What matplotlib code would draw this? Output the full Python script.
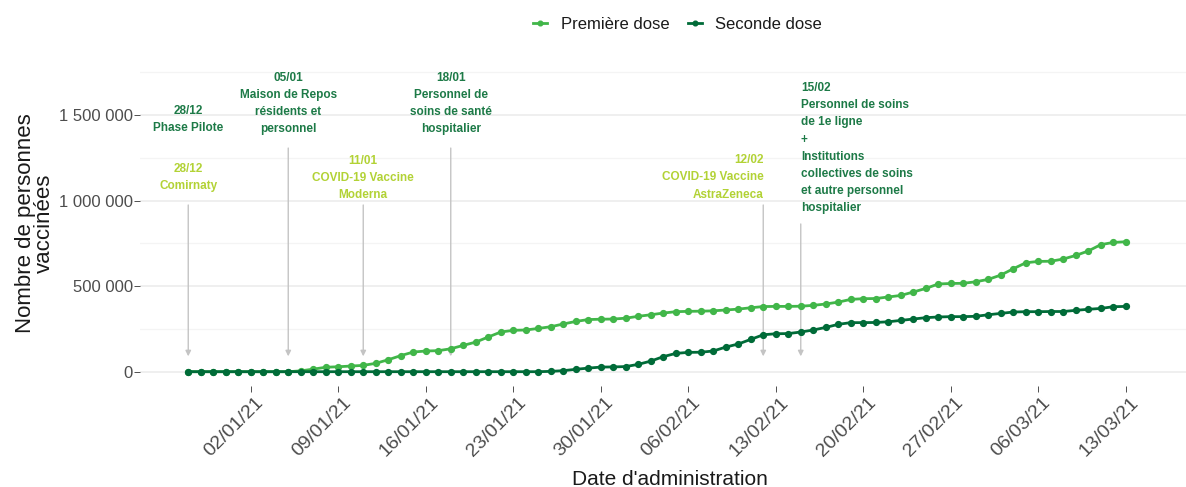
import matplotlib
matplotlib.use("Agg")
import matplotlib.pyplot as plt
import matplotlib.dates as mdates
import matplotlib.transforms as mtransforms
from matplotlib.ticker import FuncFormatter, MultipleLocator
import pandas as pd

# ---------------- data ----------------
start_date = "2020-12-28"
end_date = "2021-03-13"

premiere_dose = [
    0, 0, 0, 0, 0, 0, 0, 0, 0,
    5000, 15000, 26000, 29000, 33000, 37000, 49000, 70000, 94000, 115000,
    121000, 123000, 134000, 154000, 173000, 203000, 232000, 242000, 244000, 253000,
    263000, 279000, 294000, 305000, 307000, 308000, 313000, 324000, 333000, 343000,
    351000, 353000, 354000, 356000, 361000, 366000, 374000, 381000, 382000, 382000,
    383000, 388000, 396000, 407000, 423000, 427000, 428000, 437000, 446000, 466000,
    487000, 513000, 516000, 517000, 526000, 540000, 565000, 602000, 637000, 645000,
    646000, 659000, 680000, 706000, 743000, 756000, 760000,
]
seconde_dose = [
    0, 0, 0, 0, 0, 0, 0, 0, 0, 0, 0, 0, 0, 0, 0, 0, 0, 0, 0, 0,
    0, 0, 0, 0, 0, 0, 0, 0, 0,
    2000, 6000, 14000, 21000, 27000, 28000, 30000, 43000, 62000, 88000,
    107000, 113000, 114000, 121000, 144000, 162000, 189000, 216000, 222000, 223000,
    232000, 244000, 259000, 277000, 287000, 287000, 288000, 292000, 300000, 308000,
    316000, 320000, 322000, 322000, 324000, 333000, 341000, 349000, 351000, 351000,
    352000, 352000, 359000, 365000, 370000, 380000, 382000,
]
series_labels = ["Première dose", "Seconde dose"]

tick_dates = ["2021-01-02", "2021-01-09", "2021-01-16", "2021-01-23", "2021-01-30",
              "2021-02-06", "2021-02-13", "2021-02-20", "2021-02-27", "2021-03-06",
              "2021-03-13"]
y_ticks = [0, 500000, 1000000, 1500000]

ann_dates = ["2020-12-28", "2020-12-28", "2021-01-05", "2021-01-11",
             "2021-01-18", "2021-02-12", "2021-02-15"]
ann_texts = [
    "28/12\nPhase Pilote",
    "28/12\nComirnaty",
    "05/01\nMaison de Repos\nrésidents et\npersonnel",
    "11/01\nCOVID-19 Vaccine\nModerna",
    "18/01\nPersonnel de\nsoins de santé\nhospitalier",
    "12/02\nCOVID-19 Vaccine\nAstraZeneca",
    "15/02\nPersonnel de soins\nde 1e ligne\n+\nInstitutions\ncollectives de soins\net autre personnel\nhospitalier",
]
ann_kind = ["phase", "vaccin", "phase", "vaccin", "phase", "vaccin", "phase"]

arrow_dates = ["2020-12-28", "2021-01-05", "2021-01-11", "2021-01-18",
               "2021-02-12", "2021-02-15"]

# ---------------- layout / style ----------------
ann_y = [1476000, 1133000, 1568000, 1133000, 1568000, 1136000, 1308000]
ann_ha = ["center", "center", "center", "center", "center", "right", "left"]
arrow_top = [975000, 1308000, 975000, 1308000, 975000, 864000]
arrow_tip = 90000

c_first = "#41b649"
c_second = "#006b38"
c_phase = "#1d7a47"
c_vaccin = "#b2d235"
grey_txt = "#4d4d4d"

plt.rcParams["font.family"] = ["Liberation Sans", "DejaVu Sans"]

W, H = 1186, 487
fig = plt.figure(figsize=(W / 100, H / 100), dpi=100)
ax_l, ax_r, ax_t, ax_b = 140, 1200, 60, 386
ax = fig.add_axes([ax_l / W, (H - ax_b) / H, (ax_r - ax_l) / W, (ax_b - ax_t) / H])

dates = pd.date_range(start_date, end_date, freq="D")
ax.plot(dates, premiere_dose, color=c_first, lw=2.0, marker="o", ms=4.2,
        label=series_labels[0], zorder=3)
ax.plot(dates, seconde_dose, color=c_second, lw=2.0, marker="o", ms=4.2,
        label=series_labels[1], zorder=4)

d0 = mdates.date2num(pd.Timestamp(start_date))
ax.set_xlim(d0 - 3.86, d0 + 80.94)
ax.set_ylim(-83600, 1823000)

for s in ax.spines.values():
    s.set_visible(False)

ax.set_yticks(y_ticks)
ax.yaxis.set_minor_locator(MultipleLocator(250000))
ax.yaxis.set_major_formatter(FuncFormatter(lambda v, p: f"{int(round(v)):,}".replace(",", " ")))
ax.grid(axis="y", which="major", color="#ebebeb", lw=1.1, zorder=0)
ax.grid(axis="y", which="minor", color="#f4f4f4", lw=0.9, zorder=0)
ax.grid(axis="x", visible=False)
ax.tick_params(axis="y", which="major", length=4, width=0.6, color="#333333",
               labelsize=12, labelcolor=grey_txt, pad=1.0)
ax.tick_params(axis="y", which="minor", length=0)

ax.set_xticks([mdates.date2num(pd.Timestamp(t)) for t in tick_dates])
ax.xaxis.set_major_formatter(mdates.DateFormatter("%d/%m/%y"))
ax.tick_params(axis="x", length=4, width=0.6, color="#333333",
               labelsize=14, labelcolor=grey_txt, pad=2)
shift = mtransforms.ScaledTranslation(4 / 100, 0, fig.dpi_scale_trans)
for lab in ax.get_xticklabels():
    lab.set_rotation(45)
    lab.set_ha("right")
    lab.set_va("top")
    lab.set_rotation_mode("anchor")
    lab.set_transform(lab.get_transform() + shift)

ax.set_xlabel("Date d'administration", fontsize=15, color="#1a1a1a", labelpad=7)
ax.set_ylabel("Nombre de personnes\nvaccinées", fontsize=16, color="#1a1a1a",
              labelpad=3, linespacing=0.85)

# arrows
for d, top in zip(arrow_dates, arrow_top):
    x = mdates.date2num(pd.Timestamp(d))
    ax.annotate("", xy=(x, arrow_tip), xytext=(x, top),
                arrowprops=dict(arrowstyle="-|>", color="#c4c4c4", lw=1.0,
                                mutation_scale=8, shrinkA=0, shrinkB=0),
                zorder=2)

# annotation texts
for d, txt, y, kind, ha in zip(ann_dates, ann_texts, ann_y, ann_kind, ann_ha):
    x = mdates.date2num(pd.Timestamp(d))
    ax.text(x, y, txt, ha=ha, va="center", multialignment=ha,
            fontsize=8.5, fontweight="bold", linespacing=1.56,
            color=c_phase if kind == "phase" else c_vaccin, zorder=5)

leg = ax.legend(loc="center", bbox_to_anchor=(0.507, 1.11), ncol=2, frameon=False,
                fontsize=12, handlelength=0.85, handletextpad=0.8, columnspacing=1.1,
                markerscale=0.8)
for t in leg.get_texts():
    t.set_color("#1a1a1a")

fig.savefig("out.png", dpi=100)
